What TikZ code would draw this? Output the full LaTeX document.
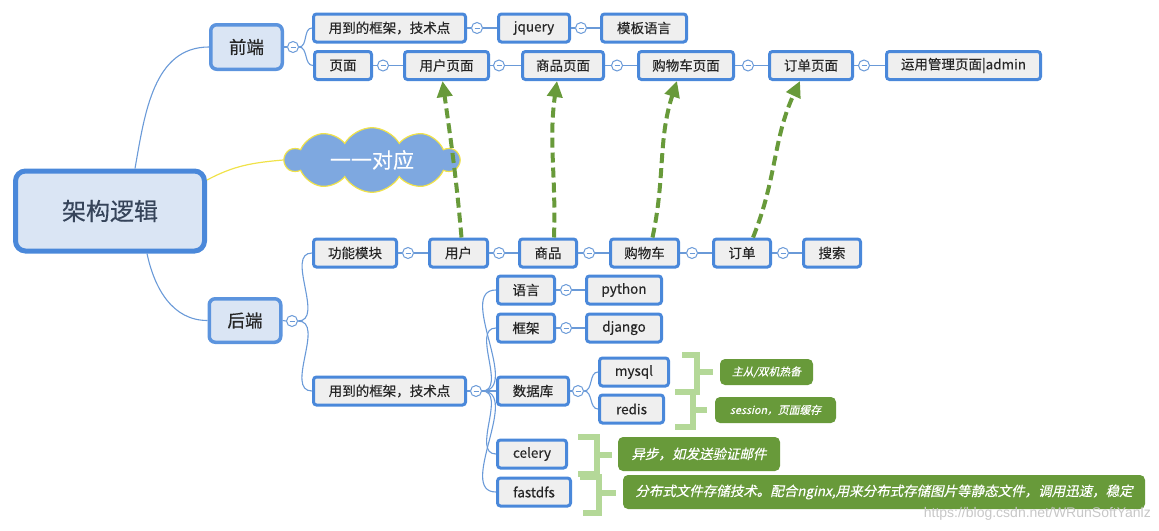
\documentclass[tikz,border=0pt]{standalone}
\usepackage{fontspec}
\setmainfont{Liberation Sans}
\newfontfamily\cjk[FakeBold=0.35]{Noto Sans CJK SC}
\newfontfamily\cjkit[FakeSlant=0.22,FakeBold=0.35]{Noto Sans CJK SC}
\usetikzlibrary{arrows.meta,shapes.symbols}
\definecolor{boxblue}{HTML}{4A88DA}
\definecolor{boxgray}{HTML}{EFEFEF}
\definecolor{rootfill}{HTML}{DAE5F4}
\definecolor{linkblue}{HTML}{6A9AD8}
\definecolor{leafgreen}{HTML}{689A3A}
\definecolor{bracegreen}{HTML}{B4D898}
\definecolor{cloudblue}{HTML}{7EA8E0}
\definecolor{cloudedge}{HTML}{F0E24A}
\definecolor{roottext}{HTML}{36445A}

\begin{document}
\begin{tikzpicture}[x=1pt,y=-1pt,
    box/.style={draw=boxblue,line width=3pt,fill=boxgray,rounded corners=3pt,minimum height=28pt,inner sep=0pt,text=black!85,font=\cjk\fontsize{13.5}{15}\selectfont},
    topic/.style={draw=boxblue!90,line width=3.5pt,fill=rootfill,rounded corners=6pt,inner sep=0pt,text=black!85,font=\cjk\fontsize{17.5}{19}\selectfont},
    fold/.style={circle,draw=linkblue,fill=white,line width=1pt,minimum size=11pt,inner sep=0pt,
      path picture={\draw[linkblue,line width=0.9pt] ([xshift=-2.5pt]path picture bounding box.center) -- ([xshift=2.5pt]path picture bounding box.center);}},
    link/.style={draw=linkblue,line width=1.1pt},
    map/.style={draw=leafgreen,line width=4pt,dash pattern=on 10pt off 5pt,-{Triangle[length=16pt,width=15pt]}},
    brace/.style={draw=bracegreen,line width=5.5pt},
    note/.style={fill=leafgreen,rounded corners=5pt,inner sep=0pt,text=white,font=\cjkit\fontsize{13.5}{15}\selectfont}]
    \useasboundingbox (0,0) rectangle (1159,530);

    \node[topic,draw=boxblue,line width=5pt,rounded corners=10pt,minimum width=189pt,minimum height=80pt,text=roottext,font=\cjk\fontsize{24}{26}\selectfont] (root) at (110,211) {架构逻辑};
    \node[topic,minimum width=71.5pt,minimum height=44.5pt] (fe) at (246.5,47) {前端};
    \node[topic,minimum width=71.5pt,minimum height=43.5pt] (be) at (245,320.5) {后端};
    \node[cloud,cloud puffs=10,cloud puff arc=120,aspect=2.6,fill=cloudblue,draw=cloudedge,line width=1.2pt,minimum width=174pt,minimum height=62pt,inner sep=0pt,text=white,font=\cjk\fontsize{21}{23}\selectfont] (one) at (372,160) {一一对应};

    \draw[link] (root.north -| 135,0) to[out=80,in=180] (fe.west);
    \draw[link] (root.south -| 147,0) to[out=-78,in=180] (be.west);
    \draw[draw=cloudedge,line width=1.2pt] ([yshift=31pt]root.east) to[out=28,in=185] (one.west);

    % front end
    \node[fold] (fefold) at (293,47) {};
    \node[box,minimum width=152pt] (fetech) at (389.5,28) {用到的框架，技术点};
    \node[fold] (f1) at (477,28) {};
    \node[box,minimum width=71pt] (jquery) at (534,28) {jquery};
    \node[fold] (f2) at (581,28) {};
    \node[box,minimum width=85pt] (tmpl) at (644,28) {模板语言};

    \node[box,minimum width=57pt] (page) at (343,65.5) {页面};
    \node[fold] (p1) at (383,65.5) {};
    \node[box,minimum width=84pt] (userpage) at (446.5,65.5) {用户页面};
    \node[fold] (p2) at (499,65.5) {};
    \node[box,minimum width=81pt] (goodspage) at (563,65.5) {商品页面};
    \node[fold] (p3) at (617,65.5) {};
    \node[box,minimum width=95pt] (cartpage) at (686,65.5) {购物车页面};
    \node[fold] (p4) at (748,65.5) {};
    \node[box,minimum width=83pt] (orderpage) at (811,65.5) {订单页面};
    \node[fold] (p5) at (864,65.5) {};
    \node[box,minimum width=154pt] (adminpage) at (963.5,65.5) {运用管理页面|admin};

    \draw[link] (fe.east) -- (fefold.west);
    \draw[link] (fefold.east) to[out=0,in=180] (fetech.west);
    \draw[link] (fefold.east) to[out=0,in=180] (page.west);
    \draw[link] (fetech) -- (f1) -- (jquery) -- (f2) -- (tmpl);
    \draw[link] (page) -- (p1) -- (userpage) -- (p2) -- (goodspage) -- (p3) -- (cartpage) -- (p4) -- (orderpage) -- (p5) -- (adminpage);

    % back end
    \node[fold] (befold) at (292,321) {};
    \node[box,minimum width=83pt] (func) at (355,253) {功能模块};
    \node[fold] (b1) at (408,253) {};
    \node[box,minimum width=58pt] (user) at (458.5,253) {用户};
    \node[fold] (b2) at (499,253) {};
    \node[box,minimum width=57pt] (goods) at (548,253) {商品};
    \node[fold] (b3) at (589,253) {};
    \node[box,minimum width=68pt] (cart) at (644.5,253) {购物车};
    \node[fold] (b4) at (692,253) {};
    \node[box,minimum width=57pt] (order) at (742,253) {订单};
    \node[fold] (b5) at (783,253) {};
    \node[box,minimum width=57pt] (search) at (832,253) {搜索};

    \node[box,minimum width=152pt] (betech) at (389.5,391) {用到的框架，技术点};
    \node[fold] (techfold) at (476,391) {};
    \node[box,minimum width=57pt] (lang) at (526,290) {语言};
    \node[fold] (l1) at (566,290) {};
    \node[box,minimum width=75pt] (python) at (624,290) {python};
    \node[box,minimum width=57pt] (frame) at (526,328) {框架};
    \node[fold] (r1) at (566,328) {};
    \node[box,minimum width=75pt] (django) at (624,328) {django};
    \node[box,minimum width=71pt] (db) at (533,391) {数据库};
    \node[fold] (dbfold) at (578,391) {};
    \node[box,minimum width=69pt] (mysql) at (634,372) {mysql};
    \node[box,minimum width=64pt] (redis) at (631.5,409) {redis};
    \node[box,minimum width=69pt] (celery) at (532,454) {celery};
    \node[box,minimum width=73pt] (fastdfs) at (534,492) {fastdfs};

    \draw[link] (be.east) -- (befold.west);
    \draw[link] (befold.east) to[out=0,in=180] (func.west);
    \draw[link] (befold.east) to[out=0,in=180] (betech.west);
    \draw[link] (func) -- (b1) -- (user) -- (b2) -- (goods) -- (b3) -- (cart) -- (b4) -- (order) -- (b5) -- (search);
    \draw[link] (betech) -- (techfold);
    \foreach \leaf in {lang,frame,db,celery,fastdfs}
        \draw[link] (techfold.east) to[out=0,in=180] (\leaf.west);
    \draw[link] (lang) -- (l1) -- (python);
    \draw[link] (frame) -- (r1) -- (django);
    \draw[link] (db) -- (dbfold);
    \draw[link] (dbfold.east) to[out=0,in=180] (mysql.west);
    \draw[link] (dbfold.east) to[out=0,in=180] (redis.west);

    % one to one
    \draw[map] ([xshift=3pt]user.north) to[out=95,in=-82] ([xshift=-4pt]userpage.south);
    \draw[map] ([xshift=6pt]goods.north) to[out=88,in=-98] ([xshift=-6pt]goodspage.south);
    \draw[map] ([xshift=8pt]cart.north) to[out=78,in=-108] ([xshift=-9pt]cartpage.south);
    \draw[map] ([xshift=11pt]order.north) to[out=68,in=-115] ([xshift=-11pt]orderpage.south);

    % notes
    \draw[brace] (682,355) -- (697,355) -- (697,392) -- (675,392);
    \draw[brace] (697,372) -- (713,372);
    \draw[brace] (693,392) -- (693,427) -- (675,427);
    \draw[brace] (693,410) -- (707,410);
    \draw[brace] (578,437) -- (597,437) -- (597,474) -- (578,474);
    \draw[brace] (597,455) -- (612,455);
    \draw[brace] (580,477) -- (599,477) -- (599,513) -- (583,513);
    \draw[brace] (599,493) -- (616,493);

    \node[note,minimum width=93pt,minimum height=26pt,font=\cjkit\fontsize{10.8}{12}\selectfont] (hot) at (766.5,372) {主从/双机热备};
    \node[note,minimum width=121pt,minimum height=26pt,font=\cjkit\fontsize{10.8}{12}\selectfont] (cache) at (775.5,410) {session，页面缓存};
    \node[note,minimum width=162pt,minimum height=34pt] (async) at (699,454) {异步，如发送验证邮件};
    \node[note,minimum width=522pt,minimum height=34pt] (dfs) at (884,492) {分布式文件存储技术。配合nginx,用来分布式存储图片等静态文件，调用迅速，稳定};

    \node[anchor=east,inner sep=0pt,text=black!22,font=\fontsize{14}{15}\selectfont] (mark) at (1151,514) {https://blog.csdn.net/WRunSoftYanlz};
\end{tikzpicture}
\end{document}
